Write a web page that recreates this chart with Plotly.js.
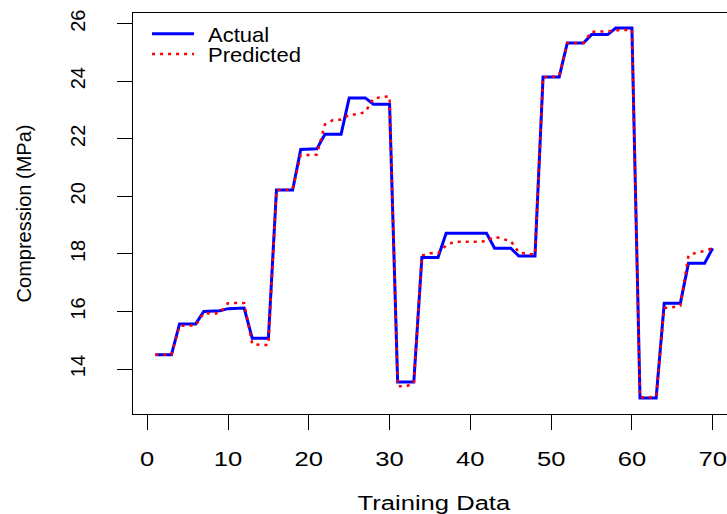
<!DOCTYPE html>
<html>
<head>
<meta charset="utf-8">
<script src="https://cdn.plot.ly/plotly-3.0.1.min.js"></script>
<style>
html, body { margin: 0; padding: 0; overflow: hidden; background: #fff; }
#chart { width: 760px; height: 514px; }
#chart .legend, #chart .legend *, #chart .legend2, #chart .legend2 * { clip-path: none !important; }
</style>
</head>
<body>
<div id="chart"></div>
<script>
// Training sample index
const sampleIndex = Array.from({length: 70}, (_, i) => i + 1);

// Actual compression (MPa)
const actualValues = [
  14.5, 14.5, 14.5,
  15.57, 15.57, 15.57,
  16.0, 16.02, 16.03,
  16.1, 16.12, 16.12,
  15.07, 15.07, 15.07,
  20.22, 20.22, 20.22,
  21.63, 21.63, 21.65,
  22.16, 22.16, 22.16,
  23.42, 23.42, 23.42,
  23.2, 23.2, 23.2,
  13.55, 13.55, 13.55,
  17.88, 17.88, 17.88,
  18.72, 18.72, 18.72, 18.72, 18.72, 18.72,
  18.2, 18.2, 18.2,
  17.93, 17.93, 17.93,
  24.15, 24.15, 24.15,
  25.33, 25.33, 25.33,
  25.62, 25.62, 25.62,
  25.85, 25.85, 25.85,
  13.0, 13.0, 13.0,
  16.29, 16.29, 16.29,
  17.68, 17.68, 17.68,
  18.2
];

// Predicted compression (MPa)
const predictedValues = [
  14.5, 14.5, 14.5,
  15.5, 15.5, 15.52,
  15.95, 15.92, 15.95,
  16.29, 16.3, 16.29,
  14.87, 14.84, 14.84,
  20.22, 20.22, 20.25,
  21.43, 21.43, 21.45,
  22.5, 22.65, 22.67,
  22.84, 22.85, 22.93,
  23.4, 23.45, 23.47,
  13.4, 13.4, 13.5,
  17.95, 18.02, 18.02,
  18.3, 18.42, 18.42, 18.42, 18.42, 18.45,
  18.6, 18.52, 18.45,
  18.05, 18.0, 17.98,
  24.15, 24.15, 24.18,
  25.33, 25.33, 25.33,
  25.72, 25.73, 25.73,
  25.77, 25.78, 25.78,
  13.02, 13.02, 13.05,
  16.12, 16.15, 16.2,
  17.95, 18.05, 18.1,
  18.2
];

const xTicks = [0, 10, 20, 30, 40, 50, 60, 70];
const yTicks = [14, 16, 18, 20, 22, 24, 26];
const seriesNames = ['Actual', 'Predicted'];

const FONT = 'Liberation Sans, Arial, sans-serif';

const traces = [
  {
    x: sampleIndex, y: actualValues, name: seriesNames[0],
    type: 'scatter', mode: 'lines',
    line: {color: '#0000FF', width: 3},
    legend: 'legend'
  },
  {
    x: sampleIndex, y: predictedValues, name: seriesNames[1],
    type: 'scatter', mode: 'lines',
    line: {color: '#FF0000', width: 2.5, dash: '3px,5px'},
    legend: 'legend2'
  }
];

const legendCommon = {
  bgcolor: 'rgba(0,0,0,0)',
  borderwidth: 0,
  font: {family: FONT, size: 20, color: '#000'},
  xanchor: 'left', yanchor: 'middle',
  itemwidth: 42,
  x: 0.0233
};

const layout = {
  width: 760, height: 514,
  margin: {l: 133, r: 25, t: 13, b: 100},
  paper_bgcolor: '#fff', plot_bgcolor: '#fff',
  font: {family: FONT, size: 20, color: '#000'},
  showlegend: true,
  legend: Object.assign({}, legendCommon, {y: 0.948}),
  legend2: Object.assign({}, legendCommon, {y: 0.898}),
  xaxis: {
    range: [-1.76, 72.76],
    tickmode: 'array', tickvals: xTicks, ticktext: xTicks.map(String),
    ticks: 'outside', ticklen: 15, tickwidth: 1, tickcolor: '#000',
    ticklabelstandoff: 12,
    showline: true, mirror: true, linecolor: '#000', linewidth: 1,
    showgrid: false, zeroline: false,
    tickfont: {family: FONT, size: 20, color: '#000'},
    title: {text: 'Training Data', font: {family: FONT, size: 20, color: '#000'}, standoff: 30},
    automargin: false
  },
  yaxis: {
    range: [12.44, 26.37],
    tickmode: 'array', tickvals: yTicks, ticktext: yTicks.map(String),
    ticks: 'outside', ticklen: 15, tickwidth: 1, tickcolor: '#000',
    tickangle: -90,
    ticklabelstandoff: 24,
    showline: true, mirror: true, linecolor: '#000', linewidth: 1,
    showgrid: false, zeroline: false,
    tickfont: {family: FONT, size: 20, color: '#000'},
    title: {text: 'Compression (MPa)', font: {family: FONT, size: 20, color: '#000'}, standoff: 30},
    automargin: false
  }
};

// The reference's horizontal axis text is drawn wider than the font's natural width
function stretchText(selector, k) {
  document.querySelectorAll(selector).forEach(function (t) {
    if (t.getAttribute('data-stretched')) return;
    const bb = t.getBBox();
    const ox = bb.x + bb.width / 2;
    const prev = t.getAttribute('transform') || '';
    t.setAttribute('transform',
      prev + ' translate(' + ox + ',0) scale(' + k + ',1) translate(' + (-ox) + ',0)');
    t.setAttribute('data-stretched', '1');
  });
}

// Legend labels: a little wider and further from their line samples, as in the reference
function adjustLegendText() {
  document.querySelectorAll('#chart text').forEach(function (t) {
    if (seriesNames.indexOf(t.textContent.trim()) === -1) return;
    t.style.transformBox = 'fill-box';
    t.style.transformOrigin = 'left center';
    t.style.transform = 'translateX(9px) scaleX(1.1)';
    let p = t.parentNode;
    while (p && p.id !== 'chart') {
      if (p.removeAttribute) p.removeAttribute('clip-path');
      p = p.parentNode;
    }
  });
}

function postProcess() {
  stretchText('#chart .xtick text', 1.28);
  stretchText('#chart .xtitle', 1.28);
  adjustLegendText();
}

Plotly.newPlot('chart', traces, layout, {displayModeBar: false, staticPlot: true})
  .then(function () {
    postProcess();
    setTimeout(postProcess, 30);
    setTimeout(postProcess, 150);
    setTimeout(postProcess, 400);
  });
</script>
</body>
</html>
